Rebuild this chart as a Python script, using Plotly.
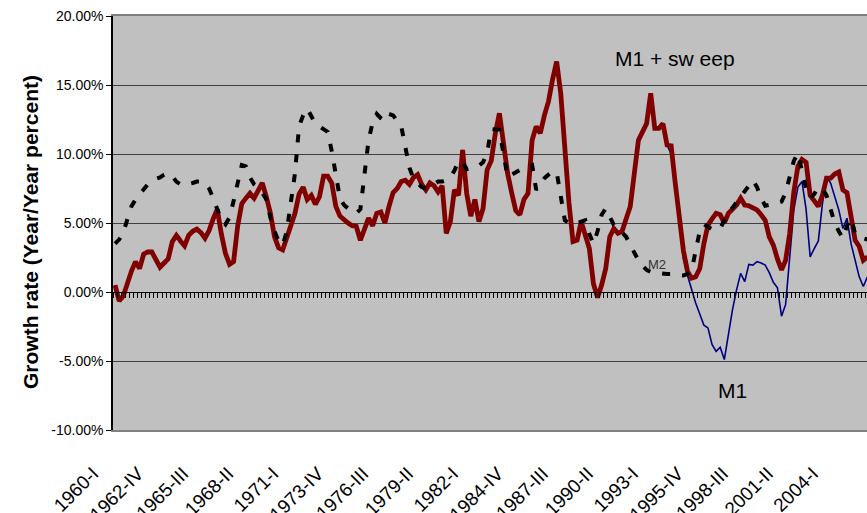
import plotly.graph_objects as go

FONT = "Liberation Sans, Arial, sans-serif"

roman = ["I", "II", "III", "IV"]
quarters = [f"{y}-{roman[q]}" for y in range(1960, 2007) for q in range(4)][:185]

tick_labels = ["1960-I", "1962-IV", "1965-III", "1968-II", "1971-I", "1973-IV",
               "1976-III", "1979-II", "1982-I", "1984-IV", "1987-III", "1990-II",
               "1993-I", "1995-IV", "1998-III", "2001-II", "2004-I"]

y_tick_values = [20, 15, 10, 5, 0, -5, -10]
y_tick_text = ["20.00%", "15.00%", "10.00%", "5.00%", "0.00%", "-5.00%", "-10.00%"]

# M1 + sweep, year/year growth (%), 1960-I onward
m1_sweep = [
    0.5, -0.65, -0.3, 0.75, 1.5, 2.2, 1.7, 2.75, 2.9, 2.9,
    2.3, 1.8, 2.1, 2.4, 3.65, 4.1, 3.7, 3.35, 4.1, 4.4,
    4.55, 4.3, 3.9, 4.45, 5.3, 6.0, 4.2, 2.8, 2.0, 2.2,
    4.8, 6.4, 6.8, 7.15, 6.8, 7.3, 7.9, 6.9, 5.7, 4.0,
    3.2, 3.05, 3.9, 5.0, 5.7, 7.1, 7.6, 6.7, 7.0, 6.35,
    6.9, 8.4, 8.4, 7.9, 6.2, 5.5, 5.2, 5.0, 4.8, 4.75,
    3.75, 4.6, 5.35, 4.8, 5.7, 5.8, 5.0, 6.2, 7.2, 7.5,
    8.0, 8.1, 7.8, 8.3, 8.5, 7.8, 7.4, 7.9, 7.7, 7.25,
    7.7, 4.25, 5.1, 7.4, 7.0, 10.3, 7.15, 5.5, 6.7, 5.1,
    6.05, 8.85, 9.5, 11.5, 12.95, 10.8, 8.6, 7.2, 5.9, 5.6,
    6.7, 7.15, 11.0, 12.0, 11.5, 12.8, 13.8, 15.4, 16.7, 14.4,
    10.3, 6.5, 3.65, 3.75, 5.1, 4.2, 3.15, 0.6, -0.4, 0.5,
    1.7, 4.0, 4.6, 4.25, 4.4, 5.3, 6.2, 8.6, 11.0, 11.6,
    12.2, 14.4, 11.85, 11.85, 12.2, 10.65, 10.6, 7.9, 5.4, 3.0,
    1.5, 1.0, 1.1, 1.7, 3.5, 4.85, 5.3, 5.7, 5.6, 5.0,
    5.7, 6.0, 6.3, 6.8, 6.3, 6.25, 6.1, 5.95, 5.6, 5.2,
    4.0, 3.4, 2.4, 1.6, 2.3, 4.25, 7.25, 9.1, 9.6, 9.4,
    7.0, 6.65, 6.2, 7.0, 8.25, 8.25, 8.55, 8.7, 7.4, 7.2,
    5.2, 3.75, 3.3, 2.3, 2.55,
]

# M1 equals M1 + sweep until 1994-I; values from 1994-I onward
m1_after_1994 = [
    10.0, 7.5, 4.8, 2.4, 1.2, 0.2, -0.8, -1.6, -2.4, -2.6,
    -3.8, -4.3, -4.0, -4.9, -3.0, -1.3, 0.15, 1.35, 0.75, 2.0,
    1.95, 2.2, 2.1, 1.95, 1.4, 0.7, 0.3, -1.75, -0.9, 2.5,
    5.95, 7.6, 8.0, 6.0, 2.55, 3.15, 3.7, 6.4, 8.35, 7.9,
    6.9, 5.95, 4.6, 5.35, 3.5, 2.4, 1.1, 0.4, 1.1,
]
m1 = m1_sweep[:136] + m1_after_1994

m2 = [
    3.5, 3.8, 4.3, 5.2, 6.2, 6.7, 7.1, 7.5, 7.8, 8.0,
    8.2, 8.3, 8.5, 8.6, 8.4, 8.0, 7.8, 7.75, 7.8, 7.9,
    8.0, 8.0, 7.9, 7.5, 6.8, 6.0, 5.2, 4.9, 5.4, 6.6,
    8.0, 9.2, 9.1, 8.3, 7.8, 7.6, 7.2, 6.7, 5.4, 4.4,
    3.7, 3.4, 4.4, 6.6, 8.6, 12.0, 12.8, 13.3, 12.8, 12.2,
    12.0, 11.8, 11.6, 10.2, 8.3, 6.8, 6.3, 6.0, 5.8, 5.7,
    6.0, 8.5, 11.0, 12.3, 12.9, 12.6, 12.4, 12.9, 12.8, 12.4,
    12.0, 10.5, 9.0, 8.2, 7.9, 7.6, 7.5, 7.6, 7.8, 8.0,
    8.0, 8.1, 8.3, 8.8, 9.5, 9.4, 8.9, 9.0, 9.1, 9.15,
    9.4, 10.1, 11.8, 11.8, 11.75, 10.0, 8.35, 8.5, 8.7, 8.85,
    8.95, 9.1, 9.2, 7.4, 7.8, 8.25, 8.5, 8.7, 8.7, 7.0,
    5.2, 5.0, 4.9, 5.0, 5.1, 5.2, 4.2, 3.5, 4.4, 5.6,
    6.05, 5.5, 4.85, 4.6, 4.3, 4.0, 3.4, 2.8, 2.3, 1.9,
    1.6, 1.45, 1.4, 1.4, 1.35, 1.3, 1.3, 1.25, 1.2, 1.2,
    1.3, 1.5, 3.0, 4.4, 4.9, 4.7, 4.55, 4.5, 4.6, 5.2,
    5.8, 6.1, 6.5, 7.0, 7.3, 7.7, 8.1, 7.6, 6.8, 6.25,
    6.3, 6.4, 6.45, 6.55, 7.2, 8.35, 9.5, 10.05, 8.6, 7.5,
    6.8, 7.1, 7.6, 7.5, 7.0, 6.0, 5.0, 4.4, 3.9, 4.8,
    5.35, 4.2, 4.0, 3.9, 3.8,
]

x_range = [-0.5, 183.9]

fig = go.Figure()
fig.add_trace(go.Scatter(x=quarters, y=m1, mode="lines", name="M1",
                         line=dict(color="#000080", width=1.6)))
fig.add_trace(go.Scatter(x=quarters, y=m1_sweep, mode="lines", name="M1 + sweep",
                         line=dict(color="#800000", width=4.8)))
fig.add_trace(go.Scatter(x=quarters, y=m2, mode="lines", name="M2",
                         line=dict(color="#000000", width=4, dash="8px,12px")))
# carrier for the zero-line category tick marks
fig.add_trace(go.Scatter(x=[None], y=[None], xaxis="x2", mode="lines",
                         showlegend=False, hoverinfo="skip"))

fig.update_layout(
    width=867, height=513,
    margin=dict(l=113, r=0, t=16, b=83),
    paper_bgcolor="white", plot_bgcolor="#C0C0C0",
    showlegend=False,
    font=dict(family=FONT, color="#000000"),
    xaxis=dict(type="category", range=x_range, tickmode="array",
               tickvals=tick_labels, ticktext=tick_labels, tickangle=-45,
               ticks="outside", ticklen=23, tickcolor="rgba(0,0,0,0)",
               ticklabelshift=-22, automargin=False,
               tickfont=dict(size=19, family=FONT, color="#000000"),
               showgrid=False, zeroline=False, showline=True,
               linecolor="#808080", linewidth=2, mirror=True),
    xaxis2=dict(overlaying="x", anchor="free", position=1/3, range=x_range,
                tickmode="linear", tick0=-0.5, dtick=1, ticks="outside",
                ticklen=5, tickcolor="#000000", tickwidth=1,
                showticklabels=False, showgrid=False, zeroline=False,
                showline=True, linecolor="#000000", linewidth=1),
    yaxis=dict(range=[-10, 20], tickmode="array", tickvals=y_tick_values,
               ticktext=y_tick_text, ticks="outside", ticklen=5, automargin=False,
               tickcolor="#000000", tickfont=dict(size=14, family=FONT, color="#000000"),
               showline=True, linecolor="#000000", linewidth=1.5,
               showgrid=True, gridcolor="#404040", gridwidth=1, zeroline=False),
    annotations=[
        dict(text="<b>Growth rate (Year/Year percent)</b>", xref="paper", yref="paper",
             x=(30 - 113) / 754, y=(430 - 232) / 414, textangle=-90, showarrow=False,
             xanchor="center", yanchor="middle",
             font=dict(size=21, family=FONT, color="#000000")),
        dict(text="M1 + sw eep", xref="paper", yref="paper",
             x=(675 - 113) / 754, y=(430 - 58) / 414, showarrow=False,
             xanchor="center", yanchor="middle",
             font=dict(size=21, family=FONT, color="#000000")),
        dict(text="M1", xref="paper", yref="paper",
             x=(732 - 113) / 754, y=(430 - 390) / 414, showarrow=False,
             xanchor="center", yanchor="middle",
             font=dict(size=21, family=FONT, color="#000000")),
        dict(text="M2", xref="paper", yref="paper",
             x=(657 - 113) / 754, y=(430 - 264) / 414, showarrow=False,
             xanchor="center", yanchor="middle",
             font=dict(size=13, family=FONT, color="#333333")),
    ],
)

fig.write_html("out.html", config={"displayModeBar": False},
               post_script="document.body.style.margin='0px';document.body.style.overflow='hidden';")
